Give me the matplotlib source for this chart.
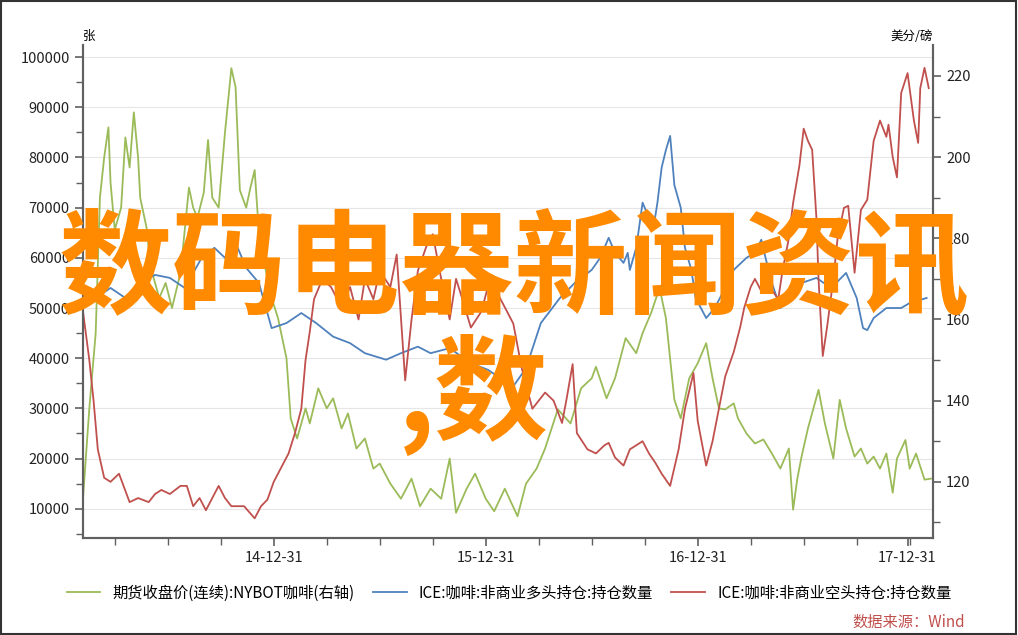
import numpy as np
import matplotlib
matplotlib.use("Agg")
import matplotlib.pyplot as plt
from matplotlib.ticker import FixedLocator, MultipleLocator
from matplotlib.patches import Rectangle

plt.rcParams["font.family"] = ["Noto Sans CJK SC", "DejaVu Sans"]

# decimal years / values
GREEN_T = [2014.10, 2014.13, 2014.16, 2014.18, 2014.20, 2014.22, 2014.23, 2014.25, 2014.28, 2014.30,
           2014.32, 2014.34, 2014.36, 2014.37, 2014.40, 2014.42, 2014.46, 2014.49, 2014.52, 2014.56,
           2014.60, 2014.62, 2014.64, 2014.67, 2014.69, 2014.71, 2014.74, 2014.77, 2014.80, 2014.82,
           2014.84, 2014.87, 2014.89, 2014.91, 2014.93, 2014.96, 2014.99, 2015.02, 2015.06, 2015.08,
           2015.11, 2015.15, 2015.17, 2015.21, 2015.25, 2015.28, 2015.32, 2015.35, 2015.39, 2015.43,
           2015.47, 2015.50, 2015.55, 2015.60, 2015.65, 2015.69, 2015.74, 2015.79, 2015.83, 2015.86,
           2015.91, 2015.95, 2016.00, 2016.04, 2016.09, 2016.15, 2016.19, 2016.24, 2016.28, 2016.34,
           2016.40, 2016.45, 2016.50, 2016.52, 2016.57, 2016.61, 2016.66, 2016.71, 2016.74, 2016.78,
           2016.82, 2016.85, 2016.89, 2016.92, 2016.96, 2017.00, 2017.04, 2017.07, 2017.10, 2017.13,
           2017.17, 2017.19, 2017.23, 2017.27, 2017.31, 2017.35, 2017.39, 2017.43, 2017.45, 2017.47,
           2017.49, 2017.52, 2017.57, 2017.60, 2017.64, 2017.67, 2017.70, 2017.74, 2017.77, 2017.80,
           2017.83, 2017.86, 2017.89, 2017.92, 2017.94, 2017.98, 2018.00, 2018.03, 2018.07, 2018.10]
GREEN_V = [12000, 30000, 45000, 72000, 80000, 86000, 75000, 65600, 70000, 84000,
           78000, 89000, 80000, 72000, 66000, 58000, 52000, 55000, 50000, 57000,
           74000, 70000, 68000, 73000, 83500, 72000, 70000, 85000, 97800, 94000,
           73500, 70000, 74000, 77500, 65000, 58000, 52000, 48000, 40000, 28000,
           24000, 30000, 27000, 34000, 30000, 32000, 26000, 29000, 22000, 24000,
           18000, 19000, 15000, 12000, 16000, 10500, 14000, 12000, 20000, 9200,
           14000, 17000, 12000, 9500, 14000, 8500, 15000, 18000, 22000, 29800,
           27000, 34000, 36000, 38300, 32000, 36000, 44000, 41000, 45000, 49000,
           54000, 48000, 31700, 28000, 36000, 39000, 43000, 36000, 30000, 29800,
           31000, 28000, 25000, 23000, 23800, 21000, 18000, 22000, 9800, 16000,
           20400, 26000, 33700, 27000, 20000, 31700, 26000, 20400, 22000, 19000,
           20400, 18000, 21000, 13200, 20000, 23700, 18000, 21000, 15800, 16000]

BLUE_T = [2014.10, 2014.16, 2014.23, 2014.30, 2014.37, 2014.44, 2014.51, 2014.58, 2014.66, 2014.72,
          2014.77, 2014.81, 2014.87, 2014.93, 2014.99, 2015.06, 2015.13, 2015.20, 2015.28, 2015.36,
          2015.43, 2015.53, 2015.60, 2015.68, 2015.74, 2015.83, 2015.93, 2016.01, 2016.07, 2016.13,
          2016.19, 2016.26, 2016.35, 2016.42, 2016.50, 2016.54, 2016.58, 2016.61, 2016.65, 2016.67,
          2016.68, 2016.71, 2016.74, 2016.76, 2016.79, 2016.81, 2016.83, 2016.85, 2016.87, 2016.89,
          2016.92, 2016.94, 2016.97, 2016.99, 2017.04, 2017.08, 2017.13, 2017.17, 2017.23, 2017.27,
          2017.30, 2017.32, 2017.35, 2017.39, 2017.44, 2017.49, 2017.56, 2017.63, 2017.70, 2017.75,
          2017.78, 2017.80, 2017.83, 2017.89, 2017.96, 2018.00, 2018.08]
BLUE_V = [50000, 52000, 54000, 52000, 55000, 56600, 56000, 54000, 60000, 62000,
          60000, 64000, 58000, 55000, 46000, 47000, 49000, 47000, 44300, 43000,
          41000, 39700, 41000, 42300, 41000, 42000, 39000, 37700, 36000, 34400,
          38000, 47000, 52000, 55000, 57600, 60000, 64000, 61000, 59000, 61000,
          57600, 62000, 71000, 69000, 65600, 71000, 78000, 81500, 84300, 74500,
          70000, 62000, 57600, 52000, 48000, 50000, 54000, 57600, 60000, 61000,
          63600, 60000, 55000, 50000, 52000, 55000, 56000, 54000, 57000, 52000,
          46000, 45600, 48000, 50000, 50000, 51000, 52000]

RED_T = [2014.10, 2014.13, 2014.15, 2014.17, 2014.20, 2014.23, 2014.27, 2014.32, 2014.36, 2014.41,
         2014.44, 2014.47, 2014.51, 2014.56, 2014.59, 2014.62, 2014.65, 2014.68, 2014.71, 2014.74,
         2014.77, 2014.80, 2014.83, 2014.86, 2014.91, 2014.94, 2014.97, 2015.00, 2015.03, 2015.07,
         2015.10, 2015.13, 2015.15, 2015.17, 2015.19, 2015.23, 2015.27, 2015.32, 2015.36, 2015.40,
         2015.43, 2015.47, 2015.50, 2015.55, 2015.58, 2015.62, 2015.65, 2015.68, 2015.72, 2015.75,
         2015.79, 2015.83, 2015.86, 2015.89, 2015.93, 2015.98, 2016.02, 2016.07, 2016.13, 2016.17,
         2016.22, 2016.28, 2016.32, 2016.36, 2016.38, 2016.41, 2016.43, 2016.48, 2016.52, 2016.56,
         2016.58, 2016.61, 2016.65, 2016.68, 2016.74, 2016.77, 2016.80, 2016.83, 2016.87, 2016.91,
         2016.94, 2016.98, 2017.00, 2017.04, 2017.07, 2017.10, 2017.13, 2017.17, 2017.20, 2017.22,
         2017.25, 2017.27, 2017.30, 2017.34, 2017.38, 2017.40, 2017.43, 2017.45, 2017.48, 2017.50,
         2017.52, 2017.54, 2017.56, 2017.57, 2017.59, 2017.61, 2017.64, 2017.66, 2017.69, 2017.71,
         2017.74, 2017.77, 2017.80, 2017.83, 2017.86, 2017.89, 2017.90, 2017.92, 2017.94, 2017.96,
         2017.99, 2018.02, 2018.04, 2018.05, 2018.07, 2018.09]
RED_V = [162, 150, 140, 128, 121, 120, 122, 115, 116, 115,
         117, 118, 117, 119, 119, 114, 116, 113, 116, 119,
         116, 114, 114, 114, 111, 114, 115.6, 120, 123, 127,
         132, 138, 150, 157, 165, 170, 168, 163, 168, 160,
         170, 165, 172, 168, 176, 145, 160, 172, 178, 181,
         170, 160, 170, 165, 158, 162, 170, 165, 159, 148,
         138, 142, 140, 134.5, 140, 149, 132, 128, 127, 129,
         129.6, 126, 124, 128, 130, 127, 124.7, 122, 119, 128,
         138, 146.8, 135, 124, 130, 138, 146, 152, 158, 163,
         168, 170, 167, 168, 165, 172, 180, 188.7, 198, 207,
         204, 201.8, 185, 170, 151, 158, 170, 180, 187.5, 188,
         171.5, 187, 189.5, 204, 209, 205, 208, 200, 195, 215.8,
         220.7, 209, 203.5, 217, 222, 217]

LABELS = ["期货收盘价(连续):NYBOT咖啡(右轴)",
          "ICE:咖啡:非商业多头持仓:持仓数量",
          "ICE:咖啡:非商业空头持仓:持仓数量"]
COLORS = ["#9BBB59", "#4F81BD", "#C0504D"]
YEAR_TICKS = [2015.0, 2016.0, 2017.0, 2017.99]
YEAR_LABELS = ["14-12-31", "15-12-31", "16-12-31", "17-12-31"]

fig = plt.figure(figsize=(10.18, 6.35), dpi=100)
ax = fig.add_axes([0.0815, 0.153, 0.835, 0.776])
ax2 = ax.twinx()

l1, = ax.plot(GREEN_T, GREEN_V, color=COLORS[0], lw=1.3)
l2, = ax.plot(BLUE_T, BLUE_V, color=COLORS[1], lw=1.3)
l3, = ax2.plot(RED_T, RED_V, color=COLORS[2], lw=1.3)

ax.set_xlim(2014.10, 2018.11)
ax.set_ylim(4200, 102400)
ax2.set_ylim(106.2, 227.6)
ax.yaxis.set_major_locator(FixedLocator(range(10000, 100001, 10000)))
ax.yaxis.set_minor_locator(MultipleLocator(5000))
ax2.yaxis.set_major_locator(FixedLocator([120, 140, 160, 180, 200, 220]))
ax2.yaxis.set_minor_locator(MultipleLocator(10))
ax.xaxis.set_major_locator(FixedLocator(YEAR_TICKS))
ax.set_xticklabels(YEAR_LABELS)
ax.xaxis.set_minor_locator(FixedLocator(np.arange(2014.25, 2018.1, 0.25)))
ax.grid(axis="y", color="#e6e6e6", lw=0.8)
ax.set_axisbelow(True)

for a in (ax, ax2):
    a.spines["top"].set_visible(False)
    for s in ("left", "right", "bottom"):
        a.spines[s].set_color("#606060")
        a.spines[s].set_linewidth(1.5)
    a.tick_params(which="both", colors="#606060", labelcolor="#222222", labelsize=10.5)
    a.tick_params(which="major", length=6, width=1.2)
    a.tick_params(which="minor", length=5, width=1.0)

ax.text(0.0, 1.005, "张", transform=ax.transAxes, fontsize=9, ha="left", va="bottom")
ax2.text(1.0, 1.005, "美分/磅", transform=ax2.transAxes, fontsize=9, ha="right", va="bottom")

fig.legend([l1, l2, l3], LABELS, loc="center", bbox_to_anchor=(0.5, 0.066), ncol=3,
           frameon=False, fontsize=11, handlelength=2.2, columnspacing=1.2)

fig.text(0.505, 0.573, "数码电器新闻资讯", fontsize=82, fontweight="bold", color="#FF8A00",
         ha="center", va="center")
fig.text(0.465, 0.378, ",数", fontsize=82, fontweight="bold", color="#FF8A00",
         ha="center", va="center")
fig.text(0.948, 0.02, "数据来源：Wind", fontsize=11, color="#C0504D", style="italic",
         ha="right", va="center")
fig.patches.append(Rectangle((0.001, 0.002), 0.997, 0.996, transform=fig.transFigure,
                             fill=False, edgecolor="#333333", lw=1.5))

fig.savefig("out.png", dpi=100)
